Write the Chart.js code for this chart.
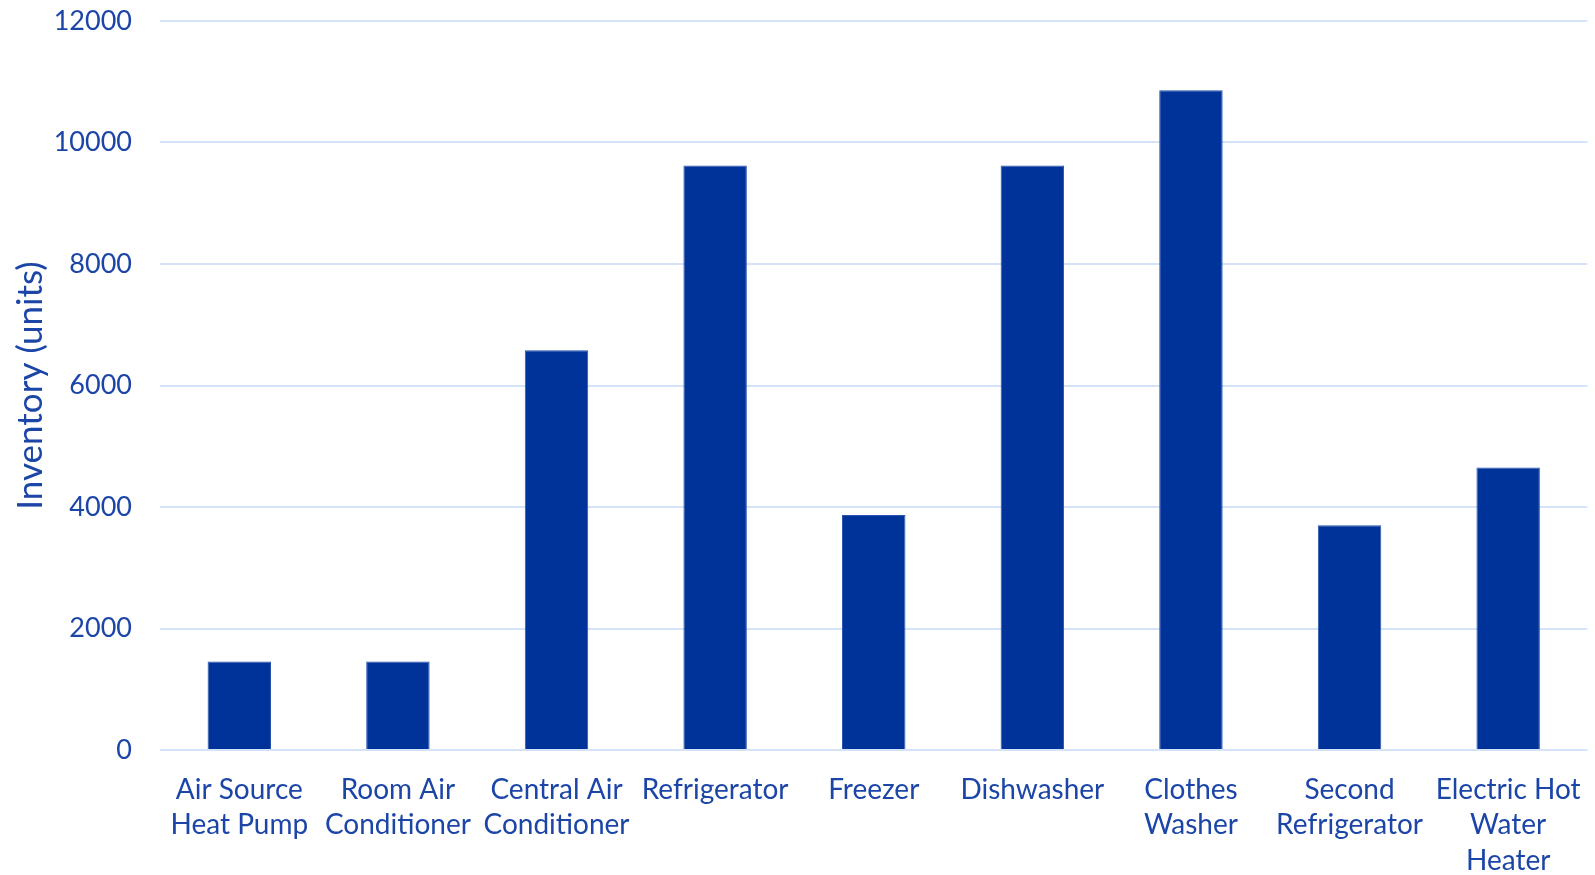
<!DOCTYPE html>
<html>
<head>
<meta charset="utf-8">
<script src="https://cdn.jsdelivr.net/npm/chart.js@4/dist/chart.umd.min.js"></script>
<style>
  html, body { margin: 0; padding: 0; background: #fff; }
  #wrap { width: 1595px; height: 875px; position: relative; }
</style>
</head>
<body>
<div id="wrap"><canvas id="chart"></canvas></div>
<script>
// ── Data ──────────────────────────────────────────────
const categories = [
  ['Air Source', 'Heat Pump'],
  ['Room Air', 'Conditioner'],
  ['Central Air', 'Conditioner'],
  'Refrigerator',
  'Freezer',
  'Dishwasher',
  ['Clothes', 'Washer'],
  ['Second', 'Refrigerator'],
  ['Electric Hot', 'Water', 'Heater'],
];
const inventory = [1455, 1455, 6580, 9620, 3870, 9620, 10860, 3700, 4650];
const yTicks = { min: 0, max: 12000, step: 2000 };

const TEXT = '#1c45a8';
const BAR  = '#003399';
const GRID = '#d5e3f8';
const FONT = 'Lato, "Open Sans", sans-serif';

new Chart(document.getElementById('chart'), {
  type: 'bar',
  data: {
    labels: categories,
    datasets: [{
      label: 'Inventory',
      data: inventory,
      backgroundColor: BAR,
      borderColor: '#2a52b0',
      borderWidth: 1,
      categoryPercentage: 1,
      barPercentage: 0.4,
    }]
  },
  options: {
    responsive: true,
    maintainAspectRatio: false,
    animation: false,
    layout: { padding: { top: 21, right: 7, left: 0, bottom: 0 } },
    plugins: { legend: { display: false }, tooltip: { enabled: false } },
    scales: {
      x: {
        grid: { display: false },
        border: { display: false },
        ticks: {
          color: TEXT, maxRotation: 0, autoSkip: false, padding: 14,
          font: { family: FONT, size: 28, lineHeight: 1.27 }
        },
        afterFit: s => { s.height = 125; }
      },
      y: {
        min: yTicks.min, max: yTicks.max,
        border: { display: false },
        grid: { color: GRID, lineWidth: 2, drawTicks: false },
        ticks: {
          stepSize: yTicks.step, color: TEXT, padding: 28,
          font: { family: FONT, size: 27 },
          callback: v => String(v)
        },
        title: {
          display: true, text: 'Inventory (units)', color: TEXT,
          font: { family: FONT, size: 35 }, padding: { top: 10, bottom: 0 }
        },
        afterFit: s => { s.width = 160; s.paddingTop = 0; s.paddingBottom = 0; }
      }
    }
  }
});
</script>
</body>
</html>
